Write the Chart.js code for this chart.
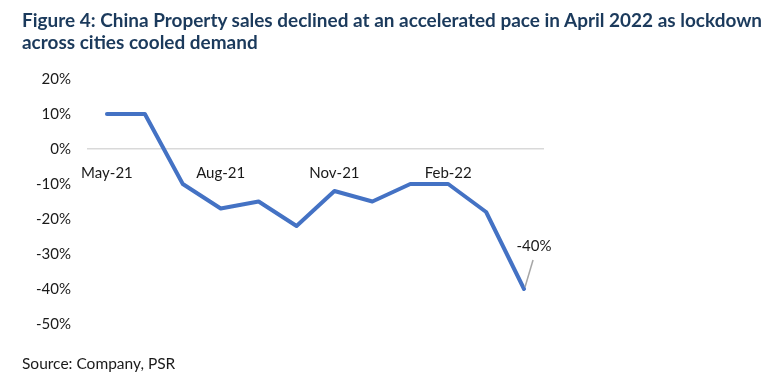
<!DOCTYPE html>
<html>
<head>
<meta charset="utf-8">
<script src="https://cdn.jsdelivr.net/npm/chart.js@4"></script>
<style>
  html, body { margin: 0; padding: 0; background: #fff; }
  #wrap { position: relative; width: 777px; height: 388px; }
  #salesChart { position: absolute; left: 0; top: 0; }
  #title {
    position: absolute; left: 22px; top: 9px; white-space: nowrap;
    font-family: Lato; font-weight: bold; font-size: 18px; line-height: 22px;
    color: #1b3a5c;
  }
  #source {
    position: absolute; left: 22px; top: 354px; white-space: nowrap;
    font-family: Lato; font-size: 15.5px; line-height: 18px; color: #1a1a1a;
  }
</style>
</head>
<body>
<div id="wrap">
  <canvas id="salesChart" width="777" height="388"></canvas>
  <div id="title"></div>
  <div id="source"></div>
</div>
<script>
const months = ['May-21', 'Jun-21', 'Jul-21', 'Aug-21', 'Sep-21', 'Oct-21',
                'Nov-21', 'Dec-21', 'Jan-22', 'Feb-22', 'Mar-22', 'Apr-22'];
const salesGrowth = [10, 10, -10, -17, -15, -22, -12, -15, -10, -10, -18, -40];
const yTicks = [20, 10, 0, -10, -20, -30, -40, -50];
const calloutIndex = 11;

const titleLines = [
    'Figure 4: China Property sales declined at an accelerated pace in April 2022 as lockdown',
    'across cities cooled demand'
];
const sourceText = 'Source: Company, PSR';

// draws the "-40%" label with its little leader line
const calloutPlugin = {
    id: 'callout',
    afterDatasetsDraw(chart) {
        const pt = chart.getDatasetMeta(0).data[calloutIndex];
        const ctx = chart.ctx;
        ctx.save();
        ctx.strokeStyle = '#a6a6a6';
        ctx.lineWidth = 1.5;
        ctx.beginPath();
        ctx.moveTo(pt.x + 1, pt.y - 2);
        ctx.lineTo(pt.x + 9, pt.y - 29);
        ctx.stroke();
        ctx.font = '15px Lato';
        ctx.fillStyle = '#1a1a1a';
        ctx.textAlign = 'center';
        ctx.textBaseline = 'middle';
        ctx.fillText(salesGrowth[calloutIndex] + '%', pt.x + 10, pt.y - 43);
        ctx.restore();
    }
};

function setTexts() {
    const title = document.getElementById('title');
    title.innerHTML = titleLines.join('<br>');
    document.getElementById('source').textContent = sourceText;
    // shrink/grow the title so the first line spans like the original
    const m = document.createElement('canvas').getContext('2d');
    m.font = 'bold 18px Lato';
    const w = m.measureText(titleLines[0]).width;
    const size = Math.min(20, 18 * 742 / w);
    title.style.fontSize = size.toFixed(2) + 'px';
    title.style.top = (16 - 0.387 * size).toFixed(1) + 'px';
}

function drawChart() {
    setTexts();
    var ctx = document.getElementById('salesChart').getContext('2d');
    var salesChart = new Chart(ctx, {
        type: 'line',
        data: {
            labels: months,
            datasets: [{
                label: 'Property sales',
                data: salesGrowth,
                borderColor: '#4472c4',
                borderWidth: 4,
                pointRadius: 0,
                tension: 0,
                borderCapStyle: 'round',
                borderJoinStyle: 'round',
                fill: false
            }]
        },
        options: {
            responsive: false,
            animation: false,
            layout: {
                padding: { left: 22, right: 234, top: 79, bottom: 64 }
            },
            plugins: {
                legend: { display: false },
                tooltip: { enabled: false }
            },
            scales: {
                x: {
                    type: 'category',
                    position: { y: 0 },
                    offset: true,
                    grid: { display: false, drawTicks: false },
                    border: { display: true, color: '#d9d9d9', width: 1.5 },
                    ticks: {
                        autoSkip: false,
                        maxRotation: 0,
                        padding: 15,
                        color: '#1a1a1a',
                        font: { family: 'Lato', size: 15 },
                        callback: function (v, i) {
                            return i % 3 === 0 ? this.getLabelForValue(v) : '';
                        }
                    }
                },
                y: {
                    min: -50,
                    max: 20,
                    afterBuildTicks: function (scale) {
                        scale.ticks = yTicks.map(v => ({ value: v }));
                    },
                    afterFit: function (scale) {
                        scale.width = 66;
                    },
                    grid: { display: false, drawTicks: false },
                    border: { display: false },
                    ticks: {
                        padding: 17,
                        color: '#1a1a1a',
                        font: { family: 'Lato', size: 15 },
                        callback: v => v + '%'
                    }
                }
            }
        },
        plugins: [calloutPlugin]
    });
}

Promise.all([
    document.fonts.load('bold 18px Lato'),
    document.fonts.load('15px Lato')
]).then(drawChart, drawChart);
</script>
</body>
</html>
